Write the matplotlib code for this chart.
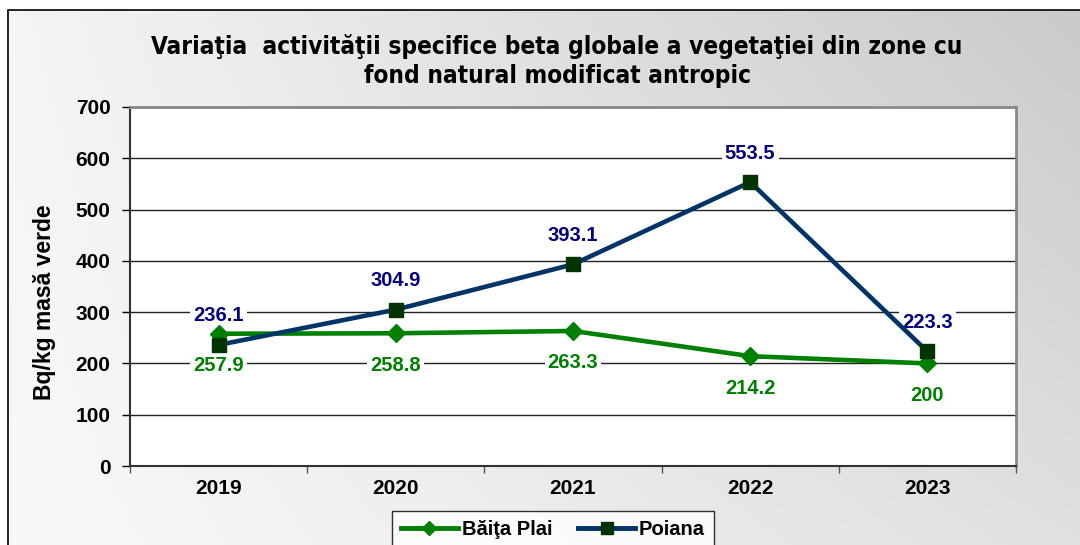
import numpy as np
import matplotlib
matplotlib.use("Agg")
import matplotlib.pyplot as plt
from matplotlib.patches import Rectangle
from matplotlib.lines import Line2D

years = ["2019", "2020", "2021", "2022", "2023"]
baita_plai = [257.9, 258.8, 263.3, 214.2, 200]
poiana = [236.1, 304.9, 393.1, 553.5, 223.3]
series_names = ["Băiţa Plai", "Poiana"]
title = "Variaţia  activităţii specifice beta globale a vegetaţiei din zone cu\nfond natural modificat antropic"
ylabel = "Bq/kg masă verde"

plt.rcParams['font.family'] = ['Liberation Sans', 'DejaVu Sans']

fig = plt.figure(figsize=(10.8, 5.45), dpi=100)

# gradient background of the chart frame
bg = fig.add_axes([0, 0, 1, 1])
xx, yy = np.meshgrid(np.linspace(0, 1, 300), np.linspace(0, 1, 150))
c = 0.96 - 0.20 * xx + 0.10 * xx * yy + 0.02 * yy
bg.imshow(np.dstack([c, c, c]), extent=[8 / 1080, 1.2, -0.2, 1 - 10 / 545],
          aspect='auto', origin='upper', zorder=0)
bg.add_patch(Rectangle((8 / 1080, -0.2), 1.2, 1.2 - 10 / 545, fill=False,
                       edgecolor='black', lw=1.2, zorder=1))
bg.set_xlim(0, 1)
bg.set_ylim(0, 1)
bg.axis('off')

fig.text(557 / 1080, 1 - 61 / 545, title, ha='center', va='center',
         fontsize=17.5, fontweight='bold', family='DejaVu Sans',
         fontstretch='condensed', linespacing=1.25)

ax = fig.add_axes([130 / 1080, 1 - 466 / 545, 886 / 1080, 359 / 545])
ax.set_facecolor('white')
x = np.arange(len(years))

ax.plot(x, baita_plai, color='#008000', lw=3.3, marker='D', ms=9,
        mfc='#008000', mec='#008000', zorder=3)
ax.plot(x, poiana, color='#003366', lw=3.3, marker='s', ms=10.5,
        mfc='#003300', mec='#003300', zorder=4)

# labels sit under the lines, white box hides the gridlines
for xi, v in zip(x, baita_plai):
    ax.annotate(f"{v:g}", (xi, v), xytext=(0, -32), textcoords='offset pixels',
                ha='center', va='center', color='#008000', fontsize=14.5,
                fontweight='bold', zorder=2.5,
                bbox=dict(boxstyle='square,pad=0.15', fc='white', ec='none'))
for xi, v in zip(x, poiana):
    ax.annotate(f"{v:g}", (xi, v), xytext=(0, 29), textcoords='offset pixels',
                ha='center', va='center', color='#000080', fontsize=14.5,
                fontweight='bold', zorder=2.5,
                bbox=dict(boxstyle='square,pad=0.15', fc='white', ec='none'))

ax.set_xlim(-0.5, len(years) - 0.5)
ax.set_ylim(0, 700)
ax.set_yticks(np.arange(0, 701, 100))
ax.yaxis.grid(True, color='#222222', lw=1)
ax.set_axisbelow(True)
ax.tick_params(axis='y', labelsize=15, length=6, width=1, pad=8)
for t in ax.get_yticklabels():
    t.set_fontweight('bold')

ax.set_xticks(np.arange(-0.5, len(years), 1))
ax.set_xticklabels([])
ax.set_xticks(x, minor=True)
ax.set_xticklabels(years, minor=True, fontsize=15, fontweight='bold')
ax.tick_params(axis='x', which='major', length=5, width=1, color='#555555')
ax.tick_params(axis='x', which='minor', length=0, pad=9)

for s in ['top', 'right']:
    ax.spines[s].set_color('#888888')
    ax.spines[s].set_linewidth(2)
for s in ['left', 'bottom']:
    ax.spines[s].set_color('#333333')
    ax.spines[s].set_linewidth(1.5)

fig.text(45 / 1080, 1 - 302 / 545, ylabel, rotation=90, ha='center',
         va='center', fontsize=16.5, fontweight='bold')

handles = [Line2D([], [], color='#008000', lw=3.5, marker='D', ms=7, mfc='#008000'),
           Line2D([], [], color='#003366', lw=3.5, marker='s', ms=9, mfc='#003300', mec='#003300')]
leg = fig.legend(handles, series_names, loc='upper center',
                 bbox_to_anchor=(553 / 1080, 1 - 511 / 545), ncol=2,
                 frameon=True, fancybox=False, edgecolor='black',
                 prop={'weight': 'bold', 'size': 14.5}, handlelength=2.8,
                 handletextpad=0.2, columnspacing=1.3, borderpad=0.45,
                 borderaxespad=0)
leg.get_frame().set_linewidth(1)

fig.savefig("out.png", dpi=100)
